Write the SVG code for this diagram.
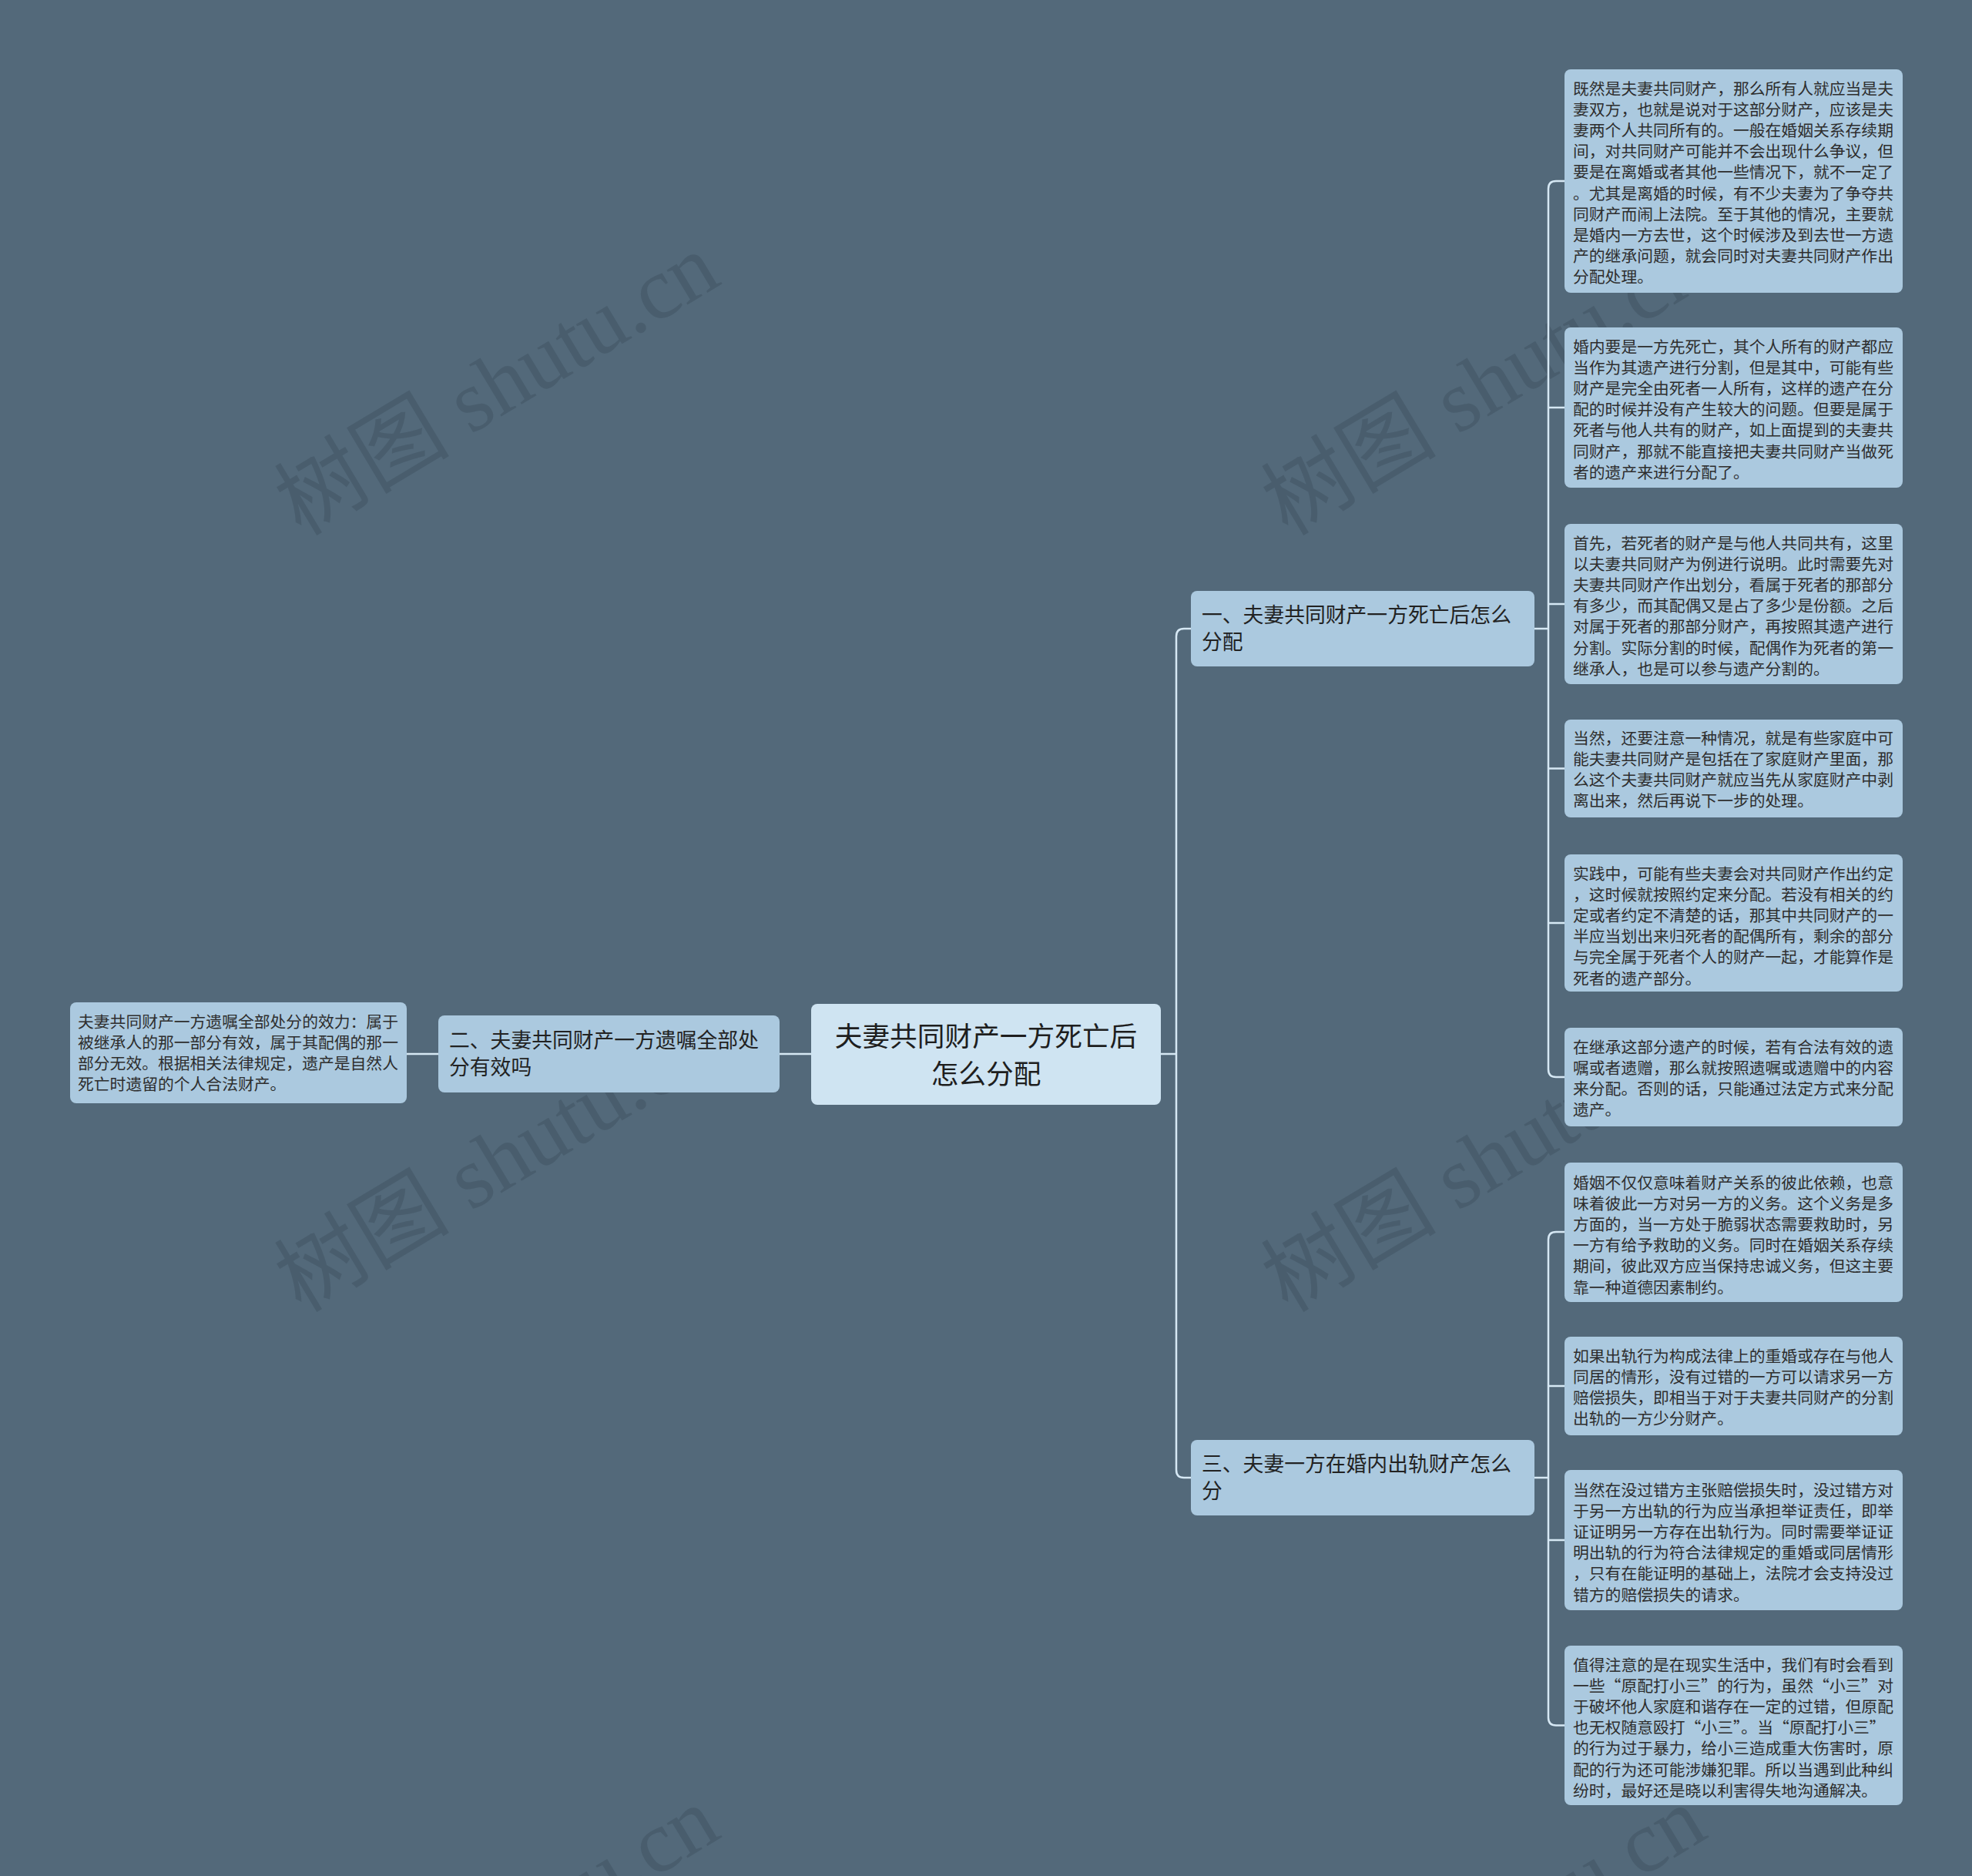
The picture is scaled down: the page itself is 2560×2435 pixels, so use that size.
<svg xmlns="http://www.w3.org/2000/svg" width="2560" height="2435" viewBox="0 0 2560 2435">
<style>
.bg{fill:#53697a}
.wm{font-family:"Liberation Serif","Noto Sans CJK SC",serif;font-size:114px;fill:#2b3a45;fill-opacity:0.24}
.leaf rect{fill:#abc9df}
.branch rect{fill:#abc9df}
.root rect{fill:#cfe4f2}
.lt{font-family:"Noto Sans CJK SC","Noto Sans",sans-serif;font-size:20.8px;fill:#2e2e2e}
.bt{font-family:"Noto Sans CJK SC","Noto Sans",sans-serif;font-size:26.8px;fill:#222}
.rt{font-family:"Noto Sans CJK SC","Noto Sans",sans-serif;font-size:35.7px;fill:#1e1e1e;text-anchor:middle}
.conn path{fill:none;stroke:#d6e8f4;stroke-width:2.5}
</style>
<rect class="bg" x="0" y="0" width="2560" height="2435"/>
<g id="watermarks">
<text class="wm" transform="translate(665,532) rotate(-31)" text-anchor="middle">树图 shutu.cn</text>
<text class="wm" transform="translate(1946,532) rotate(-31)" text-anchor="middle">树图 shutu.cn</text>
<text class="wm" transform="translate(665,1540) rotate(-31)" text-anchor="middle">树图 shutu.cn</text>
<text class="wm" transform="translate(1946,1540) rotate(-31)" text-anchor="middle">树图 shutu.cn</text>
<text class="wm" transform="translate(665,2548) rotate(-31)" text-anchor="middle">树图 shutu.cn</text>
<text class="wm" transform="translate(1946,2548) rotate(-31)" text-anchor="middle">树图 shutu.cn</text>
</g>
<g id="connectors" class="conn">
<path d="M1507 1368 H1527"/>
<path d="M1546 816 H1537 Q1527 816 1527 826 V1908 Q1527 1918 1537 1918 H1546"/>
<path d="M1053 1368 H1012"/>
<path d="M569 1368 H528"/>
<path d="M1992 816 H2010"/>
<path d="M2031 235 H2020 Q2010 235 2010 245 V1388 Q2010 1398 2020 1398 H2031"/>
<path d="M2010 529 H2031"/>
<path d="M2010 784 H2031"/>
<path d="M2010 997.5 H2031"/>
<path d="M2010 1198 H2031"/>
<path d="M1992 1918 H2010"/>
<path d="M2031 1599 H2020 Q2010 1599 2010 1609 V2229.5 Q2010 2239.5 2020 2239.5 H2031"/>
<path d="M2010 1799 H2031"/>
<path d="M2010 1999 H2031"/>
</g>
<g id="root" class="root">
<rect x="1053" y="1303" width="454" height="131" rx="8"/>
<text class="rt" x="1280" y="1357.5">夫妻共同财产一方死亡后</text>
<text class="rt" x="1280" y="1406.5">怎么分配</text>
</g>
<g id="branch1" class="branch">
<rect x="1546" y="767" width="446" height="98" rx="8"/>
<text class="bt" x="1560" y="808">一、夫妻共同财产一方死亡后怎么</text>
<text class="bt" x="1560" y="843">分配</text>
</g>
<g id="branch2" class="branch">
<rect x="569" y="1318" width="443" height="100" rx="8"/>
<text class="bt" x="583" y="1360">二、夫妻共同财产一方遗嘱全部处</text>
<text class="bt" x="583" y="1395">分有效吗</text>
</g>
<g id="branch3" class="branch">
<rect x="1546" y="1869" width="446" height="98" rx="8"/>
<text class="bt" x="1560" y="1910">三、夫妻一方在婚内出轨财产怎么</text>
<text class="bt" x="1560" y="1945">分</text>
</g>
<g id="leaf-left" class="leaf">
<rect x="91" y="1301" width="437" height="131" rx="8"/>
<text class="lt" x="101" y="1334">夫妻共同财产一方遗嘱全部处分的效力：属于</text>
<text class="lt" x="101" y="1361.1">被继承人的那一部分有效，属于其配偶的那一</text>
<text class="lt" x="101" y="1388.2">部分无效。根据相关法律规定，遗产是自然人</text>
<text class="lt" x="101" y="1415.3">死亡时遗留的个人合法财产。</text>
</g>
<g id="leaf1" class="leaf">
<rect x="2031" y="90" width="439" height="290" rx="8"/>
<text class="lt" x="2042" y="123">既然是夫妻共同财产，那么所有人就应当是夫</text>
<text class="lt" x="2042" y="150.1">妻双方，也就是说对于这部分财产，应该是夫</text>
<text class="lt" x="2042" y="177.2">妻两个人共同所有的。一般在婚姻关系存续期</text>
<text class="lt" x="2042" y="204.3">间，对共同财产可能并不会出现什么争议，但</text>
<text class="lt" x="2042" y="231.4">要是在离婚或者其他一些情况下，就不一定了</text>
<text class="lt" x="2042" y="258.5">。尤其是离婚的时候，有不少夫妻为了争夺共</text>
<text class="lt" x="2042" y="285.6">同财产而闹上法院。至于其他的情况，主要就</text>
<text class="lt" x="2042" y="312.7">是婚内一方去世，这个时候涉及到去世一方遗</text>
<text class="lt" x="2042" y="339.8">产的继承问题，就会同时对夫妻共同财产作出</text>
<text class="lt" x="2042" y="366.9">分配处理。</text>
</g>
<g id="leaf2" class="leaf">
<rect x="2031" y="425" width="439" height="208" rx="8"/>
<text class="lt" x="2042" y="458">婚内要是一方先死亡，其个人所有的财产都应</text>
<text class="lt" x="2042" y="485.1">当作为其遗产进行分割，但是其中，可能有些</text>
<text class="lt" x="2042" y="512.2">财产是完全由死者一人所有，这样的遗产在分</text>
<text class="lt" x="2042" y="539.3">配的时候并没有产生较大的问题。但要是属于</text>
<text class="lt" x="2042" y="566.4">死者与他人共有的财产，如上面提到的夫妻共</text>
<text class="lt" x="2042" y="593.5">同财产，那就不能直接把夫妻共同财产当做死</text>
<text class="lt" x="2042" y="620.6">者的遗产来进行分配了。</text>
</g>
<g id="leaf3" class="leaf">
<rect x="2031" y="680" width="439" height="208" rx="8"/>
<text class="lt" x="2042" y="713">首先，若死者的财产是与他人共同共有，这里</text>
<text class="lt" x="2042" y="740.1">以夫妻共同财产为例进行说明。此时需要先对</text>
<text class="lt" x="2042" y="767.2">夫妻共同财产作出划分，看属于死者的那部分</text>
<text class="lt" x="2042" y="794.3">有多少，而其配偶又是占了多少是份额。之后</text>
<text class="lt" x="2042" y="821.4">对属于死者的那部分财产，再按照其遗产进行</text>
<text class="lt" x="2042" y="848.5">分割。实际分割的时候，配偶作为死者的第一</text>
<text class="lt" x="2042" y="875.6">继承人，也是可以参与遗产分割的。</text>
</g>
<g id="leaf4" class="leaf">
<rect x="2031" y="934" width="439" height="127" rx="8"/>
<text class="lt" x="2042" y="966">当然，还要注意一种情况，就是有些家庭中可</text>
<text class="lt" x="2042" y="993.1">能夫妻共同财产是包括在了家庭财产里面，那</text>
<text class="lt" x="2042" y="1020.2">么这个夫妻共同财产就应当先从家庭财产中剥</text>
<text class="lt" x="2042" y="1047.3">离出来，然后再说下一步的处理。</text>
</g>
<g id="leaf5" class="leaf">
<rect x="2031" y="1109" width="439" height="178" rx="8"/>
<text class="lt" x="2042" y="1142">实践中，可能有些夫妻会对共同财产作出约定</text>
<text class="lt" x="2042" y="1169.1">，这时候就按照约定来分配。若没有相关的约</text>
<text class="lt" x="2042" y="1196.2">定或者约定不清楚的话，那其中共同财产的一</text>
<text class="lt" x="2042" y="1223.3">半应当划出来归死者的配偶所有，剩余的部分</text>
<text class="lt" x="2042" y="1250.4">与完全属于死者个人的财产一起，才能算作是</text>
<text class="lt" x="2042" y="1277.5">死者的遗产部分。</text>
</g>
<g id="leaf6" class="leaf">
<rect x="2031" y="1334" width="439" height="128" rx="8"/>
<text class="lt" x="2042" y="1367">在继承这部分遗产的时候，若有合法有效的遗</text>
<text class="lt" x="2042" y="1394.1">嘱或者遗赠，那么就按照遗嘱或遗赠中的内容</text>
<text class="lt" x="2042" y="1421.2">来分配。否则的话，只能通过法定方式来分配</text>
<text class="lt" x="2042" y="1448.3">遗产。</text>
</g>
<g id="leaf7" class="leaf">
<rect x="2031" y="1509" width="439" height="181" rx="8"/>
<text class="lt" x="2042" y="1543">婚姻不仅仅意味着财产关系的彼此依赖，也意</text>
<text class="lt" x="2042" y="1570.1">味着彼此一方对另一方的义务。这个义务是多</text>
<text class="lt" x="2042" y="1597.2">方面的，当一方处于脆弱状态需要救助时，另</text>
<text class="lt" x="2042" y="1624.3">一方有给予救助的义务。同时在婚姻关系存续</text>
<text class="lt" x="2042" y="1651.4">期间，彼此双方应当保持忠诚义务，但这主要</text>
<text class="lt" x="2042" y="1678.5">靠一种道德因素制约。</text>
</g>
<g id="leaf8" class="leaf">
<rect x="2031" y="1735" width="439" height="128" rx="8"/>
<text class="lt" x="2042" y="1768">如果出轨行为构成法律上的重婚或存在与他人</text>
<text class="lt" x="2042" y="1795.1">同居的情形，没有过错的一方可以请求另一方</text>
<text class="lt" x="2042" y="1822.2">赔偿损失，即相当于对于夫妻共同财产的分割</text>
<text class="lt" x="2042" y="1849.3">出轨的一方少分财产。</text>
</g>
<g id="leaf9" class="leaf">
<rect x="2031" y="1908" width="439" height="182" rx="8"/>
<text class="lt" x="2042" y="1942">当然在没过错方主张赔偿损失时，没过错方对</text>
<text class="lt" x="2042" y="1969.1">于另一方出轨的行为应当承担举证责任，即举</text>
<text class="lt" x="2042" y="1996.2">证证明另一方存在出轨行为。同时需要举证证</text>
<text class="lt" x="2042" y="2023.3">明出轨的行为符合法律规定的重婚或同居情形</text>
<text class="lt" x="2042" y="2050.4">，只有在能证明的基础上，法院才会支持没过</text>
<text class="lt" x="2042" y="2077.5">错方的赔偿损失的请求。</text>
</g>
<g id="leaf10" class="leaf">
<rect x="2031" y="2136" width="439" height="207" rx="8"/>
<text class="lt" x="2042" y="2169">值得注意的是在现实生活中，我们有时会看到</text>
<text class="lt" x="2042" y="2196.1">一些“原配打小三”的行为，虽然“小三”对</text>
<text class="lt" x="2042" y="2223.2">于破坏他人家庭和谐存在一定的过错，但原配</text>
<text class="lt" x="2042" y="2250.3">也无权随意殴打“小三”。当“原配打小三”</text>
<text class="lt" x="2042" y="2277.4">的行为过于暴力，给小三造成重大伤害时，原</text>
<text class="lt" x="2042" y="2304.5">配的行为还可能涉嫌犯罪。所以当遇到此种纠</text>
<text class="lt" x="2042" y="2331.6">纷时，最好还是晓以利害得失地沟通解决。</text>
</g>
</svg>
